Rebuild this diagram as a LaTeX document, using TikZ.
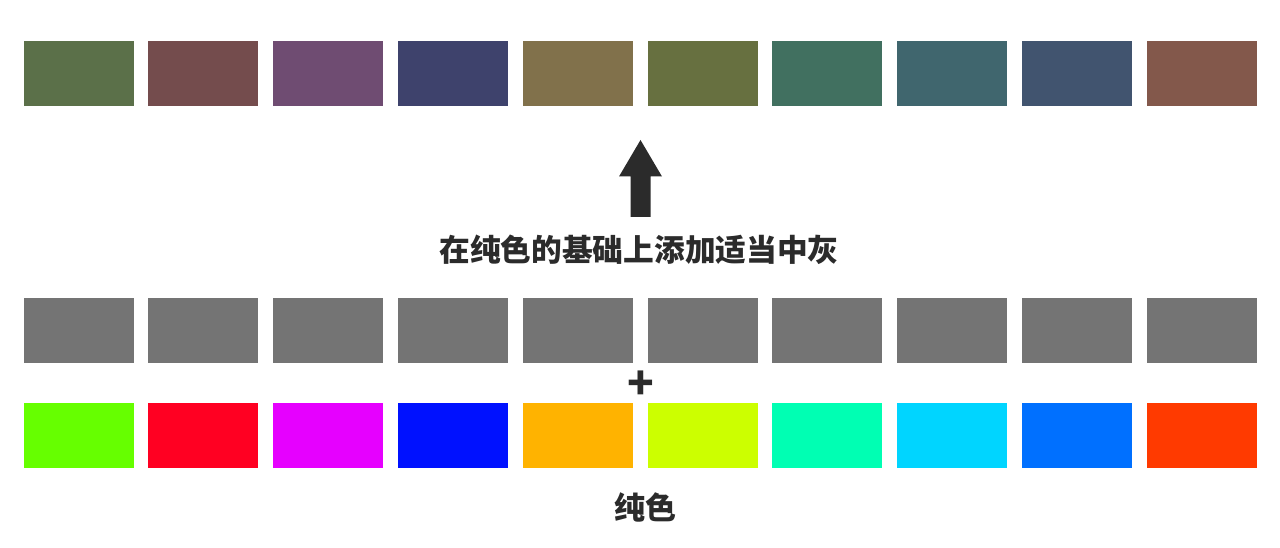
\documentclass[tikz,border=0pt]{standalone}
\usepackage{fontspec}
\newfontfamily\cjk{Noto Sans CJK SC}
\definecolor{mixA}{HTML}{5B7049}
\definecolor{mixB}{HTML}{744C4D}
\definecolor{mixC}{HTML}{6F4C72}
\definecolor{mixD}{HTML}{3E426C}
\definecolor{mixE}{HTML}{81714B}
\definecolor{mixF}{HTML}{677040}
\definecolor{mixG}{HTML}{417060}
\definecolor{mixH}{HTML}{40666E}
\definecolor{mixI}{HTML}{41546F}
\definecolor{mixJ}{HTML}{83584B}
\definecolor{midgray}{HTML}{747474}
\definecolor{pureA}{HTML}{66FF00}
\definecolor{pureB}{HTML}{FF0022}
\definecolor{pureC}{HTML}{E600FF}
\definecolor{pureD}{HTML}{0011FF}
\definecolor{pureE}{HTML}{FFB300}
\definecolor{pureF}{HTML}{CCFF00}
\definecolor{pureG}{HTML}{00FFB3}
\definecolor{pureH}{HTML}{00D5FF}
\definecolor{pureI}{HTML}{0070FF}
\definecolor{pureJ}{HTML}{FF3A00}
\definecolor{inkgray}{HTML}{2B2B2B}
\tikzset{
  swatch/.style={rectangle, inner sep=0pt, minimum width=110pt, minimum height=65pt},
  caption/.style={inner sep=0pt, text=inkgray, font=\cjk\bfseries}
}
\begin{document}
\begin{tikzpicture}[x=1pt, y=-1pt]
		    \useasboundingbox (0,0) rectangle (1280,548);
		    
		    % mixed colours
		    \node [swatch, fill=mixA] (TA) at (78.5,73.5) {};
		    \node [swatch, fill=mixB] (TB) at (203.3,73.5) {};
		    \node [swatch, fill=mixC] (TC) at (328.1,73.5) {};
		    \node [swatch, fill=mixD] (TD) at (452.9,73.5) {};
		    \node [swatch, fill=mixE] (TE) at (577.7,73.5) {};
		    \node [swatch, fill=mixF] (TF) at (702.5,73.5) {};
		    \node [swatch, fill=mixG] (TG) at (827.3,73.5) {};
		    \node [swatch, fill=mixH] (TH) at (952.1,73.5) {};
		    \node [swatch, fill=mixI] (TI) at (1076.9,73.5) {};
		    \node [swatch, fill=mixJ] (TJ) at (1201.7,73.5) {};
		    
		    % arrow
		    \fill [inkgray] (630.5,217) -- (630.5,176.5) -- (619,176.5) -- (640.5,140) -- (662,176.5) -- (650.5,176.5) -- (650.5,217) -- cycle;
		    
		    \node [caption, font=\cjk\bfseries\fontsize{30.7}{30.7}\selectfont] (LA) at (639,250) {在纯色的基础上添加适当中灰};
		    
		    % middle gray
		    \node [swatch, fill=midgray] (GA) at (78.5,330.5) {};
		    \node [swatch, fill=midgray] (GB) at (203.3,330.5) {};
		    \node [swatch, fill=midgray] (GC) at (328.1,330.5) {};
		    \node [swatch, fill=midgray] (GD) at (452.9,330.5) {};
		    \node [swatch, fill=midgray] (GE) at (577.7,330.5) {};
		    \node [swatch, fill=midgray] (GF) at (702.5,330.5) {};
		    \node [swatch, fill=midgray] (GG) at (827.3,330.5) {};
		    \node [swatch, fill=midgray] (GH) at (952.1,330.5) {};
		    \node [swatch, fill=midgray] (GI) at (1076.9,330.5) {};
		    \node [swatch, fill=midgray] (GJ) at (1201.7,330.5) {};
		    
		    \node [caption, font=\cjk\bfseries\fontsize{44}{44}\selectfont] (LB) at (640.5,385.5) {+};
		    
		    % pure colours
		    \node [swatch, fill=pureA] (PA) at (78.5,435.8) {};
		    \node [swatch, fill=pureB] (PB) at (203.3,435.8) {};
		    \node [swatch, fill=pureC] (PC) at (328.1,435.8) {};
		    \node [swatch, fill=pureD] (PD) at (452.9,435.8) {};
		    \node [swatch, fill=pureE] (PE) at (577.7,435.8) {};
		    \node [swatch, fill=pureF] (PF) at (702.5,435.8) {};
		    \node [swatch, fill=pureG] (PG) at (827.3,435.8) {};
		    \node [swatch, fill=pureH] (PH) at (952.1,435.8) {};
		    \node [swatch, fill=pureI] (PI) at (1076.9,435.8) {};
		    \node [swatch, fill=pureJ] (PJ) at (1201.7,435.8) {};
		    
		    \node [caption, font=\cjk\bfseries\fontsize{31}{31}\selectfont] (LC) at (645,507) {纯色};
		\end{tikzpicture}
\end{document}
